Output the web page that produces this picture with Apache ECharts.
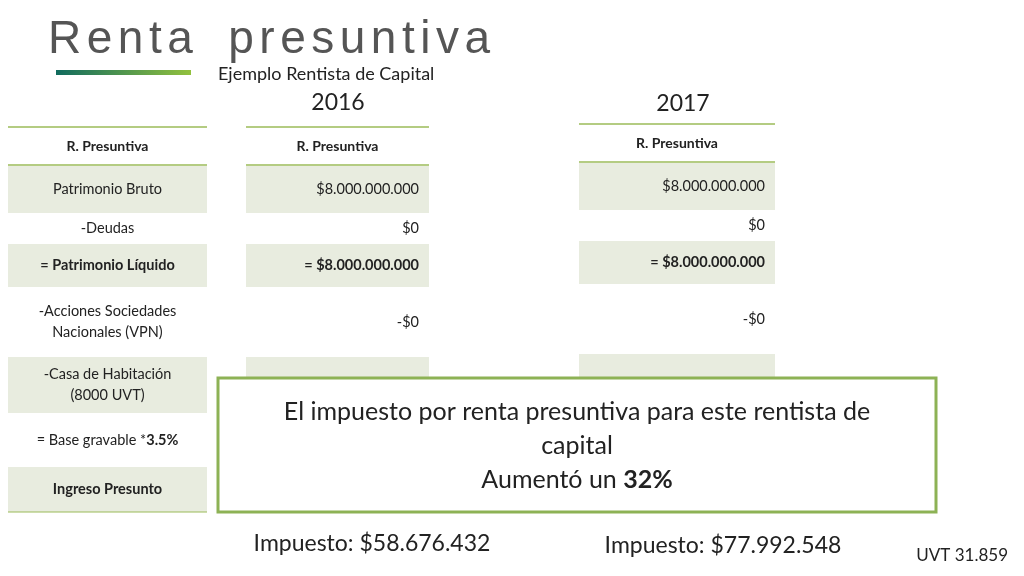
<!DOCTYPE html>
<html lang="es">
<head>
    <meta charset="UTF-8">
    <title>Renta presuntiva</title>
    <script src="https://cdn.jsdelivr.net/npm/echarts@6/dist/echarts.min.js"></script>
</head>
<body style="margin:0">
<div id="main" style="width:1024px;height:576px"></div>

<script>
    // datos de la tabla
    var rowLabels = ['Patrimonio Bruto', '-Deudas', '= Patrimonio Líquido',
        '-Acciones Sociedades\nNacionales (VPN)', '-Casa de Habitación\n(8000 UVT)',
        '= Base gravable *{b|3.5%}', 'Ingreso Presunto'];
    var rowBold = [false, false, true, false, false, false, true];
    var values2016 = ['$8.000.000.000', '$0', '= $8.000.000.000', '-$0', '', '', ''];
    var values2017 = ['$8.000.000.000', '$0', '= $8.000.000.000', '-$0', '', '', ''];
    var years = ['2016', '2017'];
    var impuestos = ['Impuesto: $58.676.432', 'Impuesto: $77.992.548'];
    var aumento = '32%';
    var title = 'Renta presuntiva';

    var FONT = 'Lato, "Open Sans", sans-serif';
    var rowH = [47, 31, 43, 70, 56, 54, 45];
    var shade = '#e8ecdf', lineC = '#9bbb59';

    function table(x, w, top, cells, align) {
        var els = [];
        var y = top;
        els.push({type: 'line', shape: {x1: x, y1: y, x2: x + w, y2: y}, style: {stroke: lineC, lineWidth: 1.5}});
        els.push({type: 'text', x: x + w / 2, y: y + 19, style: {text: 'R. Presuntiva', font: 'bold 14px ' + FONT, fill: '#222', align: 'center', verticalAlign: 'middle'}});
        y += 38;
        els.push({type: 'line', shape: {x1: x, y1: y, x2: x + w, y2: y}, style: {stroke: lineC, lineWidth: 1.5}});
        for (var i = 0; i < cells.length; i++) {
            if (i % 2 === 0) {
                els.push({type: 'rect', shape: {x: x, y: y + 1, width: w, height: rowH[i]}, style: {fill: shade}});
            }
            var bold = rowBold[i];
            els.push({type: 'text', x: align === 'center' ? x + w / 2 : x + w - 10, y: y + rowH[i] / 2 + 1,
                style: {text: cells[i], font: (bold ? 'bold ' : '') + '14.5px ' + FONT, fill: '#222',
                    align: align, verticalAlign: 'middle', lineHeight: 21,
                    rich: {b: {font: 'bold 14.5px ' + FONT, fill: '#222'}}}});
            y += rowH[i];
        }
        els.push({type: 'line', shape: {x1: x, y1: y + 1, x2: x + w, y2: y + 1}, style: {stroke: lineC, lineWidth: 1}});
        return els;
    }

    // título con letras espaciadas
    function spacedTitle(x0, y0, text, font, gap, spaceW) {
        var ctx = document.createElement('canvas').getContext('2d');
        ctx.font = font;
        var els = [], x = x0;
        for (var i = 0; i < text.length; i++) {
            var ch = text[i];
            if (ch === ' ') { x += spaceW; continue; }
            els.push({type: 'text', x: x, y: y0, style: {text: ch, font: font, fill: '#555', verticalAlign: 'middle'}});
            x += ctx.measureText(ch).width + gap;
        }
        return els;
    }

    var chart = echarts.init(document.getElementById('main'));
    var g = spacedTitle(48, 40, title, '46px "Liberation Sans", sans-serif', 5.5, 30);
    g.push({type: 'rect', shape: {x: 56, y: 70, width: 135, height: 5},
        style: {fill: new echarts.graphic.LinearGradient(0, 0, 1, 0, [{offset: 0, color: '#116b5e'}, {offset: 1, color: '#92c13e'}])}});
    g.push({type: 'text', x: 218, y: 74, style: {text: 'Ejemplo Rentista de Capital', font: '18px ' + FONT, fill: '#222', verticalAlign: 'middle'}});
    g.push({type: 'text', x: 338, y: 103, style: {text: years[0], font: '23px ' + FONT, fill: '#222', align: 'center', verticalAlign: 'middle'}});
    g.push({type: 'text', x: 683, y: 104, style: {text: years[1], font: '23px ' + FONT, fill: '#222', align: 'center', verticalAlign: 'middle'}});
    g = g.concat(table(8, 199, 127, rowLabels, 'center'));
    g = g.concat(table(246, 183, 127, values2016, 'right'));
    g = g.concat(table(579, 196, 124, values2017, 'right'));
    g.push({type: 'rect', shape: {x: 218, y: 378, width: 718, height: 134}, style: {fill: '#fff', stroke: '#8db255', lineWidth: 3}});
    g.push({type: 'text', x: 577, y: 446, style: {
        text: 'El impuesto por renta presuntiva para este rentista de\ncapital\nAumentó un {b|' + aumento + '}',
        font: '25px ' + FONT, fill: '#222', align: 'center', verticalAlign: 'middle', lineHeight: 34,
        rich: {b: {font: 'bold 25px ' + FONT, fill: '#222'}}}});
    g.push({type: 'text', x: 372, y: 544, style: {text: impuestos[0], font: '23px ' + FONT, fill: '#222', align: 'center', verticalAlign: 'middle'}});
    g.push({type: 'text', x: 723, y: 546, style: {text: impuestos[1], font: '23px ' + FONT, fill: '#222', align: 'center', verticalAlign: 'middle'}});
    g.push({type: 'text', x: 1008, y: 556, style: {text: 'UVT 31.859', font: '17px ' + FONT, fill: '#222', align: 'right', verticalAlign: 'middle'}});

    chart.setOption({backgroundColor: '#fff', graphic: g});
</script>
</body>
</html>
